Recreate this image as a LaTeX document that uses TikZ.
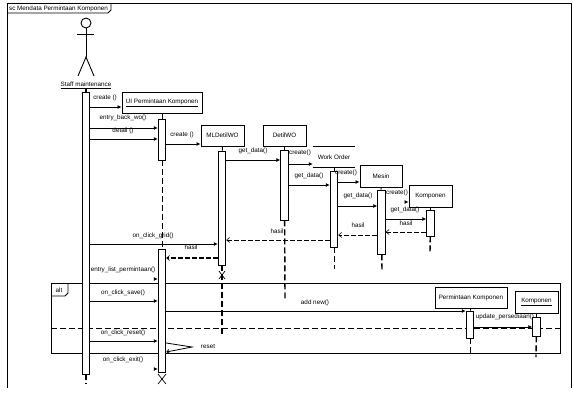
\documentclass[tikz,border=0pt]{standalone}
\usepackage{fontspec}
\setmainfont{Liberation Sans}
\usetikzlibrary{arrows.meta, positioning, backgrounds, calc}

\begin{document}
\begin{tikzpicture}[
    x=1pt, y=-1pt,
    font=\fontsize{6.3}{7}\selectfont,
    obj/.style={rectangle, draw, fill=white, line width=0.9pt, inner sep=0pt, align=center},
    act/.style={rectangle, draw, fill=white, line width=0.9pt, inner sep=0pt, minimum width=7.5pt},
    lbl/.style={inner sep=0pt},
    call/.style={-{Latex[length=4pt,width=4pt]}, line width=0.8pt},
    back/.style={-{Straight Barb[length=3pt,width=5pt,line width=0.6pt]}, dashed, dash pattern=on 5pt off 2pt, line width=0.9pt},
    life/.style={dashed, dash pattern=on 6pt off 3pt, line width=0.7pt},
    lifeb/.style={dashed, dash pattern=on 6pt off 3pt, line width=1.4pt},
    kill/.style={line width=0.7pt}
]
\useasboundingbox (0,0) rectangle (573,413);

% Frames
\begin{scope}[on background layer]
\fill[white] (0,0) rectangle (573,413);
\draw[line width=0.9pt] (7,388) -- (7,3) -- (571,3) -- (571,388);
\draw[line width=0.9pt] (7,13) -- (108,13) -- (111,10) -- (111,3);
\draw[line width=0.9pt] (51,283) rectangle (560,353);
\draw[line width=0.9pt] (51,296) -- (65,296) -- (68,293) -- (68,283);
\draw[dashed, dash pattern=on 6pt off 3pt, line width=0.8pt] (51,328) -- (560,328);
\end{scope}
\node[lbl, anchor=west] (frametitle) at (9,9) {sc Mendata Permintaan Komponen};
\node[lbl] (alttitle) at (59,290) {alt};

% Actor
\node[circle, draw, line width=0.9pt, inner sep=0pt, minimum size=10pt] (head) at (86,23) {};
\coordinate (hip) at (86,57);
\draw[line width=0.9pt] (head) -- (hip);
\draw[line width=0.9pt] (77,34) -- (94,34);
\draw[line width=0.9pt] (78,76) -- (hip) -- (94,76);
\node[lbl] (staff) at (86,85) {\underline{Staff maintenance}};

% Objects
\node[obj, minimum width=80pt, minimum height=21pt] (ui) at (162,102.5) {\underline{UI Permintaan Komponen}};
\node[obj, minimum width=43pt, minimum height=21pt] (mldetil) at (222.5,135.5) {MLDetilWO};
\node[obj, minimum width=43pt, minimum height=21pt] (detil) at (284.5,135.5) {DetilWO};
\node[lbl, minimum width=42pt, minimum height=20pt] (wo) at (334,157) {Work Order};
\draw[line width=0.9pt] (wo.north west) -- (wo.north east);
\draw[line width=0.9pt] (wo.south west) -- (wo.south east);
\node[obj, minimum width=42pt, minimum height=22pt] (mesh) at (381,176) {Mesin};
\node[obj, minimum width=43pt, minimum height=22pt] (komp) at (430.5,196) {Komponen};
\node[obj, minimum width=72pt, minimum height=21pt] (perm) at (471,297.5) {Permintaan Komponen};
\node[obj, minimum width=43pt, minimum height=22pt] (kompb) at (536.5,302) {\underline{Komponen}};

% Activations
\node[act, minimum height=282pt] (staffa) at (86,233) {};
\node[act, minimum height=41pt] (uia) at (162,139.5) {};
\node[act, minimum height=123pt] (uib) at (162,310.5) {};
\node[act, minimum height=114pt] (mldetila) at (222,208) {};
\node[act, minimum height=70pt] (detila) at (284.5,185) {};
\node[act, minimum height=76pt] (woa) at (334,209) {};
\node[act, minimum height=64pt] (mesha) at (381.5,222) {};
\node[act, minimum height=26pt] (kompa) at (430.5,223) {};
\node[act, minimum height=27pt] (perma) at (470,324.5) {};
\node[act, minimum height=19pt] (kompba) at (536.5,326.5) {};

% Lifelines
\coordinate (staffend) at (86,384);
\coordinate (mlend) at (222,337);
\coordinate (detilend) at (285,299);
\coordinate (woend) at (334,269);
\coordinate (meshend) at (382,272);
\coordinate (kompend) at (430,252);
\coordinate (permend) at (470,353);
\coordinate (kompbend) at (536,357);
\coordinate (uikill) at (162,379);
\coordinate (mlkill) at (222,275);
\draw[line width=1.2pt] (staff.south -| staffa) -- (staffa.north);
\draw[lifeb] (staffa.south) -- (staffend);
\draw[life] (ui) -- (uia);
\draw[life] (uia) -- (uib);
\draw[line width=0.9pt] (mldetil) -- (mldetila);
\draw[lifeb] (mldetila) -- (mlend);
\draw[line width=0.9pt] (detil) -- (detila);
\draw[lifeb] (detila) -- (detilend);
\draw[line width=0.9pt] (wo) -- (woa);
\draw[life] (woa) -- (woend);
\draw[line width=0.9pt] (mesh) -- (mesha);
\draw[lifeb] (mesha) -- (meshend);
\draw[line width=0.9pt] (komp) -- (kompa);
\draw[lifeb] (kompa) -- (kompend);
\draw[line width=0.9pt] (perm) -- (perma);
\draw[life] (perma) -- (permend);
\draw[line width=0.9pt] (kompb) -- (kompba);
\draw[lifeb] (kompba) -- (kompbend);
\draw[kill] ($(uikill)+(-4,-5)$) -- ($(uikill)+(4,5)$);
\draw[kill] ($(uikill)+(4,-5)$) -- ($(uikill)+(-4,5)$);
\draw[kill] ($(mlkill)+(-3,-4)$) -- ($(mlkill)+(3,4)$);
\draw[kill] ($(mlkill)+(3,-4)$) -- ($(mlkill)+(-3,4)$);

% Messages
\draw[call] (staffa.east |- 0,107) -- (ui.west |- 0,107);
\draw[call] (staffa.east |- 0,128) -- (uia.west |- 0,128);
\draw[call] (staffa.east |- 0,139) -- (uia.west |- 0,139);
\draw[call] (uia.east |- 0,144) -- (mldetil.west |- 0,144);
\draw[call] (mldetila.east |- 0,160) -- (detila.west |- 0,160);
\draw[call] (detila.east |- 0,164) -- (wo.west |- 0,164);
\draw[call] (detila.east |- 0,185) -- (woa.west |- 0,185);
\draw[call] (woa.east |- 0,182) -- (mesh.west |- 0,182);
\draw[call] (woa.east |- 0,206) -- (mesha.west |- 0,206);
\draw[call] (mesha.east |- 0,219) -- (kompa.west |- 0,219);
\draw[back] (kompa.west |- 0,232) -- (mesha.east |- 0,232);
\draw[back] (mesha.west |- 0,235) -- (woa.east |- 0,235);
\draw[back] (woa.west |- 0,240) -- (mldetila.east |- 0,240);
\draw[call] (staffa.east |- 0,244) -- (mldetila.west |- 0,244);
\draw[back, line width=1.3pt] (mldetila.west |- 0,258) -- (uib.east |- 0,258);
\draw[call] (staffa.east |- 0,301) -- (uib.west |- 0,301);
\draw[call] (staffa.east |- 0,341) -- (uib.west |- 0,341);
\draw[call] (uib.east |- 0,311) -- (perma.west |- 0,311);
\draw[call] (perma.east |- 0,327) -- (kompba.west |- 0,327);
\draw[call] (154.5,279) -- (uib.west |- 0,279);
\draw[call] (154.5,369) -- (uib.west |- 0,369);
\draw[call] (405,202) -- (komp.west |- 0,202);
\draw[line width=0.8pt, -{Straight Barb[length=2.5pt,width=4pt]}] (uib.east |- 0,343) -- (192,347) -- (uib.east |- 0,352);

% Message labels
\node[lbl] (m1) at (105,98) {create ()};
\node[lbl] (m2) at (123,118) {entry\_back\_wo()};
\node[lbl] (m3) at (123,131) {detail ()};
\node[lbl] (m4) at (182,135) {create ()};
\node[lbl] (m5) at (253,151) {get\_data()};
\node[lbl] (m6) at (300,153) {create()};
\node[lbl] (m7) at (309,176) {get\_data()};
\node[lbl] (m8) at (346,173) {create()};
\node[lbl] (m9) at (358,196) {get\_data()};
\node[lbl] (m10) at (397,193) {create()};
\node[lbl] (m11) at (405,210) {get\_data()};
\node[lbl] (m12) at (406,223) {hasil};
\node[lbl] (m13) at (358,225) {hasil};
\node[lbl] (m14) at (277,231) {hasil};
\node[lbl] (m15) at (153,236) {on\_click\_grid()};
\node[lbl] (m16) at (191,247) {hasil};
\node[lbl] (m17) at (123,270) {entry\_list\_permintaan()};
\node[lbl] (m18) at (123,293) {on\_click\_save()};
\node[lbl] (m19) at (123,333) {on\_click\_reset()};
\node[lbl] (m20) at (208,346) {reset};
\node[lbl] (m21) at (123,360) {on\_click\_exit()};
\node[lbl] (m22) at (315,303) {add new()};
\node[lbl] (m23) at (505,317) {update\_persediaan()};
\end{tikzpicture}
\end{document}
